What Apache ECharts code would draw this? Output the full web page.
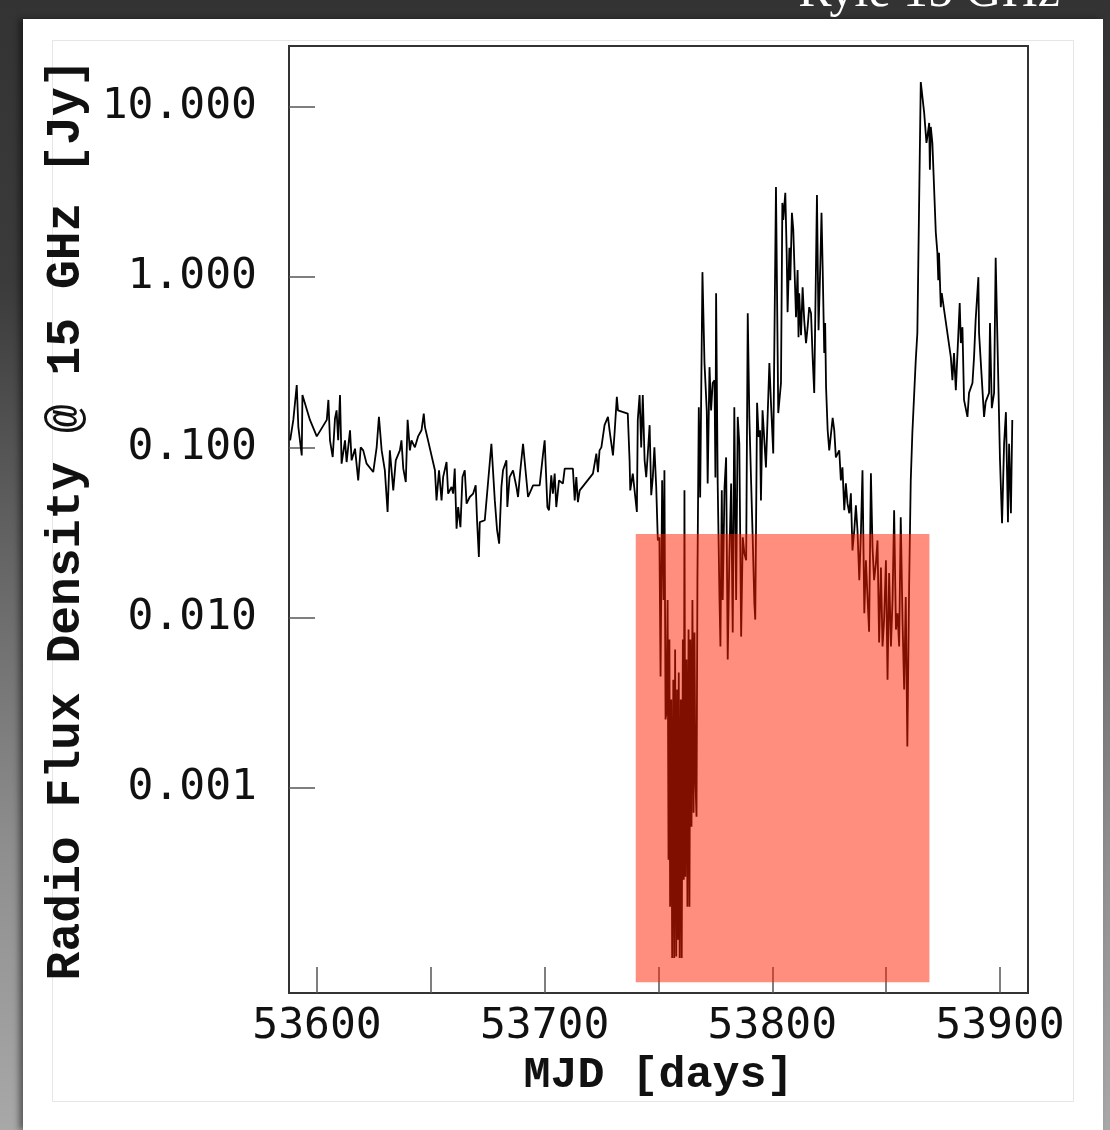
<!DOCTYPE html>
<html>
<head>
<meta charset="utf-8">
<title>Radio light curve, 15 GHz</title>
<script src="https://cdn.jsdelivr.net/npm/echarts@6/dist/echarts.min.js"></script>
<style>
  html, body { margin: 0; padding: 0; }
  body {
    width: 1110px; height: 1130px; overflow: hidden; position: relative;
    background: linear-gradient(to bottom, #333 0%, #3b3b3b 25%, #666 50%, #8e8e8e 75%, #a8a8a8 100%);
  }
  #card {
    position: absolute; left: 23px; top: 19px; width: 1080px; height: 1111px;
    background: #fff; box-shadow: -4px 0 6px rgba(0,0,0,0.45);
  }
  #frame {
    position: absolute; left: 52px; top: 40px; width: 1022px; height: 1062px;
    border: 1px solid #e6e6e6; box-sizing: border-box;
  }
  #chart { position: absolute; left: 0; top: 0; width: 1110px; height: 1130px; }
</style>
</head>
<body>
<div id="card"></div>
<div id="frame"></div>
<div id="chart"></div>
<script>
// Modified Julian Date of each measurement [days]
const mjd = [
  53588.2, 53589.6, 53591.1, 53591.8, 53593.3, 53593.6, 53596.9, 53599.9, 53604.3, 53605.0,
  53605.7, 53606.9, 53607.9, 53608.6, 53609.3, 53610.1, 53610.8, 53612.3, 53613.0, 53614.5,
  53615.2, 53616.7, 53618.1, 53619.2, 53620.3, 53621.8, 53624.7, 53626.2, 53627.2, 53628.4,
  53629.8, 53631.0, 53632.0, 53633.5, 53634.6, 53636.4, 53637.1, 53637.9, 53639.0, 53639.8,
  53640.8, 53641.5, 53643.0, 53644.4, 53645.9, 53646.9, 53647.4, 53651.8, 53652.5, 53653.6,
  53654.7, 53655.4, 53656.9, 53657.6, 53659.1, 53659.8, 53660.5, 53661.3, 53662.0, 53663.0,
  53663.9, 53664.9, 53665.7, 53667.1, 53668.6, 53669.7, 53670.3, 53671.1, 53671.5, 53673.7,
  53676.6, 53678.1, 53679.1, 53680.0, 53681.0, 53681.7, 53683.2, 53683.6, 53684.6, 53686.1,
  53687.6, 53688.3, 53689.3, 53690.5, 53692.7, 53694.9, 53697.8, 53699.3, 53700.0, 53701.2,
  53701.9, 53702.9, 53703.6, 53704.4, 53705.1, 53706.3, 53708.0, 53708.8, 53712.4, 53713.2,
  53713.9, 53714.6, 53715.4, 53721.2, 53722.7, 53723.4, 53724.1, 53724.9, 53726.3, 53727.8,
  53728.5, 53730.0, 53730.7, 53731.7, 53732.2, 53736.5, 53737.3, 53737.6, 53738.7, 53740.5,
  53740.9, 53741.7, 53742.4, 53743.1, 53743.9, 53744.6, 53745.3, 53746.1, 53746.8, 53747.5,
  53748.2, 53749.0, 53749.7, 53750.4,
  53750.9, 53751.6, 53752.2, 53752.6, 53753.1, 53753.5, 53754.0, 53754.4, 53754.8, 53755.1,
  53755.6, 53756.0, 53756.5, 53756.9, 53757.3, 53757.8, 53758.2, 53758.6, 53758.9, 53759.3,
  53759.8, 53760.2, 53760.7, 53761.1, 53761.4, 53761.8, 53762.3, 53762.7, 53763.2, 53763.6,
  53764.0, 53764.5, 53764.9, 53765.4, 53765.8, 53766.2, 53766.7, 53767.1, 53767.7, 53768.3,
  53769.3, 53770.2, 53771.2, 53771.6, 53772.4, 53773.1, 53773.8, 53774.6, 53775.0, 53775.3,
  53776.0, 53776.8, 53777.2, 53777.8, 53778.2, 53779.0, 53779.7, 53780.4, 53781.1, 53781.9,
  53782.6, 53783.3, 53784.1, 53784.8, 53785.5, 53786.3, 53787.0, 53787.7, 53788.5, 53789.2,
  53789.9, 53790.7, 53791.4, 53792.1, 53792.5, 53793.3, 53794.0, 53794.6, 53795.0, 53795.7,
  53796.5, 53797.2, 53798.7, 53799.4, 53800.4, 53801.6, 53802.6, 53803.8, 53804.4, 53804.8,
  53805.7, 53806.3, 53806.7, 53807.5, 53807.9, 53808.6, 53809.2, 53809.8, 53810.4, 53811.1,
  53811.5, 53811.8, 53812.6, 53813.3, 53814.0, 53814.8, 53815.5, 53816.2, 53817.0, 53817.7,
  53818.4, 53819.6, 53820.3, 53821.1, 53821.6, 53822.1, 53822.8, 53823.2, 53823.6, 53824.3,
  53825.0, 53826.5, 53827.2, 53827.9, 53829.4, 53830.1, 53830.8, 53831.6, 53832.3, 53833.0,
  53833.8, 53834.5, 53835.2, 53836.0, 53836.7, 53837.4, 53838.2, 53838.9, 53839.6, 53840.4,
  53841.1, 53841.8, 53842.5, 53843.3, 53844.0, 53844.7, 53845.5, 53846.2, 53846.9, 53847.7,
  53848.4, 53849.1, 53849.9, 53850.6, 53851.3, 53852.1, 53852.8, 53853.5, 53854.3, 53855.0,
  53855.7, 53856.4, 53857.2, 53857.9, 53858.6, 53859.3, 53860.1, 53860.8, 53861.5, 53863.0,
  53863.7, 53865.2, 53866.7, 53867.7, 53868.1, 53868.9, 53869.2, 53869.6, 53870.3, 53871.8,
  53872.5, 53872.9, 53873.2, 53874.0, 53874.4, 53878.4, 53879.1, 53879.8, 53880.6, 53882.3,
  53882.8, 53883.5, 53884.2, 53885.7, 53886.4, 53887.9, 53888.6, 53889.3, 53890.5, 53890.8,
  53893.0, 53893.7, 53895.2, 53895.6, 53896.4, 53897.4, 53898.1, 53900.0, 53900.9, 53901.8,
  53902.6, 53903.5, 53904.0, 53904.8, 53905.4
];

// Flux density at 15 GHz [Jy], one value per date above
const flux = [
  0.110, 0.145, 0.232, 0.132, 0.0897, 0.203, 0.145, 0.116, 0.145, 0.190,
  0.110, 0.0877, 0.148, 0.165, 0.110, 0.203, 0.0802, 0.110, 0.0820, 0.126,
  0.0839, 0.0983, 0.0640, 0.100, 0.096, 0.0802, 0.0716, 0.100, 0.151, 0.096,
  0.0733, 0.0417, 0.096, 0.0559, 0.0839, 0.096, 0.110, 0.0750, 0.0626, 0.145,
  0.096, 0.110, 0.100, 0.116, 0.126, 0.158, 0.132, 0.0733, 0.0488, 0.0733,
  0.0488, 0.0669, 0.0820, 0.0535, 0.0585, 0.0535, 0.0750, 0.0333, 0.0446, 0.0340,
  0.0669, 0.0733, 0.0467, 0.0511, 0.0535, 0.0598, 0.0373, 0.0227, 0.0364, 0.0373,
  0.105, 0.0488, 0.0326, 0.0272, 0.0585, 0.0733, 0.0839, 0.0446, 0.0669, 0.0733,
  0.0585, 0.0511, 0.0733, 0.105, 0.0511, 0.0598, 0.0598, 0.0918, 0.110, 0.0446,
  0.0427, 0.0685, 0.0535, 0.0701, 0.0446, 0.0640, 0.0612, 0.0750, 0.0750, 0.0488,
  0.0669, 0.0477, 0.0559, 0.0701, 0.0918, 0.0716, 0.096, 0.100, 0.135, 0.151,
  0.126, 0.0897, 0.121, 0.198, 0.165, 0.158, 0.0839, 0.0559, 0.0701, 0.0417,
  0.145, 0.203, 0.100, 0.203, 0.0839, 0.0669, 0.0918, 0.135, 0.0523, 0.0666,
  0.100, 0.0585, 0.0284, 0.0296,
  0.00450, 0.0640, 0.0127, 0.0733, 0.00252, 0.00277, 0.0127, 0.000378, 0.00743, 0.000200,
  0.00330, 0.0001, 0.00432, 0.0001, 0.00649, 0.000102, 0.00378, 0.000128, 0.00475, 0.0001,
  0.00330, 0.0001, 0.00743, 0.000288, 0.0559, 0.000300, 0.00567, 0.000200, 0.00850, 0.000200,
  0.00743, 0.000590, 0.0127, 0.000713, 0.00816, 0.00112, 0.000676, 0.0166, 0.172, 0.0508,
  1.07, 0.313, 0.165, 0.0614, 0.296, 0.165, 0.239, 0.248, 0.0666, 0.805,
  0.0614, 0.0127, 0.00676, 0.0559, 0.0127, 0.0582, 0.0873, 0.00567, 0.0217, 0.0614,
  0.00816, 0.172, 0.0127, 0.151, 0.105, 0.00773, 0.0296, 0.0239, 0.0217, 0.614,
  0.151, 0.0614, 0.0284, 0.0122, 0.00973, 0.183, 0.115, 0.126, 0.0488, 0.165,
  0.165, 0.0763, 0.313, 0.183, 0.0922, 3.39, 0.159, 0.239, 2.73, 2.17,
  3.13, 1.39, 0.623, 1.49, 0.960, 2.39, 1.90, 1.95, 0.582, 1.10,
  0.444, 0.805, 0.456, 0.873, 0.559, 0.410, 0.508, 0.666, 0.614, 0.339,
  0.209, 3.04, 0.488, 1.21, 2.39, 1.15, 0.358, 0.537, 0.226, 0.126,
  0.096, 0.149, 0.126, 0.0873, 0.096, 0.0640, 0.0763, 0.0427, 0.0614, 0.0470,
  0.0410, 0.0537, 0.0248, 0.0326, 0.0456, 0.0326, 0.0166, 0.0313, 0.0733, 0.0106,
  0.0217, 0.0132, 0.00827, 0.0704, 0.0259, 0.0166, 0.0209, 0.0284, 0.00713, 0.0197,
  0.00676, 0.00973, 0.0217, 0.00432, 0.0183, 0.00676, 0.0127, 0.0427, 0.00850, 0.0106,
  0.00676, 0.0388, 0.00935, 0.00378, 0.0132, 0.00175, 0.0159, 0.0640, 0.121, 0.326,
  0.470, 14.0, 9.22, 6.14, 6.66, 8.05, 4.27, 7.63, 6.14, 1.83,
  1.39, 0.960, 1.39, 0.666, 0.805, 0.339, 0.248, 0.358, 0.217, 0.704,
  0.410, 0.508, 0.190, 0.151, 0.209, 0.239, 0.339, 0.559, 1.00, 0.470,
  0.151, 0.185, 0.209, 0.537, 0.170, 0.209, 1.30, 0.0839, 0.0358, 0.105,
  0.161, 0.0363, 0.105, 0.0410, 0.145
];

// Axis ranges and tick positions
const mjdRange = [53587.7, 53912.3];
const fluxRange = [6.23e-5, 22.8];
const mjdTicks = [53600, 53650, 53700, 53750, 53800, 53850, 53900];
const mjdLabels = [53600, 53700, 53800, 53900];
const fluxTicks = [0.001, 0.01, 0.1, 1, 10];

// Highlighted interval: [start, end] in MJD and [low, high] in Jy
const shadeMjd = [53740, 53869];
const shadeFlux = [7.2e-5, 0.031];

const points = mjd.map((d, i) => [d, flux[i]]);

const chart = echarts.init(document.getElementById('chart'), null, { renderer: 'canvas' });

const labelFont = '"DejaVu Sans Mono", monospace';
const nameFont = '"Liberation Mono", "DejaVu Sans Mono", monospace';

chart.setOption({
  animation: false,
  backgroundColor: 'transparent',
  graphic: [{
    type: 'text',
    x: 1060,
    y: 18,
    silent: true,
    style: {
      text: 'Ryle 15 GHz',
      fill: '#ffffff',
      font: '50px "Liberation Serif", serif',
      align: 'right',
      verticalAlign: 'bottom'
    }
  }],
  grid: {
    left: 289, top: 46, right: 82, bottom: 137,
    show: true, borderColor: '#333', borderWidth: 2,
    backgroundColor: 'transparent'
  },
  xAxis: {
    type: 'value',
    min: mjdRange[0], max: mjdRange[1],
    name: 'MJD [days]',
    nameLocation: 'middle',
    nameGap: 58,
    nameTextStyle: { fontFamily: nameFont, fontWeight: 'bold', fontSize: 45, color: '#111' },
    axisLine: { show: true, lineStyle: { color: '#333', width: 2 } },
    axisTick: { show: true, inside: true, length: 26, customValues: mjdTicks,
                lineStyle: { color: '#555', width: 1.5 } },
    axisLabel: { customValues: mjdLabels, margin: 12, fontFamily: labelFont, fontSize: 43, color: '#111',
                 formatter: v => String(Math.round(v)) },
    splitLine: { show: false }
  },
  yAxis: {
    type: 'log',
    logBase: 10,
    min: fluxRange[0], max: fluxRange[1],
    name: 'Radio Flux Density @ 15 GHz [Jy]',
    nameLocation: 'middle',
    nameGap: 198,
    nameRotate: 90,
    nameTextStyle: { fontFamily: nameFont, fontWeight: 'bold', fontSize: 48, color: '#111' },
    axisLine: { show: true, lineStyle: { color: '#333', width: 2 } },
    axisTick: { show: true, inside: true, length: 26, customValues: fluxTicks,
                lineStyle: { color: '#555', width: 1.5 } },
    axisLabel: { customValues: fluxTicks, margin: 32, fontFamily: labelFont, fontSize: 43, color: '#111',
                 formatter: v => Number(v).toFixed(3) },
    splitLine: { show: false }
  },
  series: [
    {
      type: 'line',
      data: points,
      showSymbol: false,
      symbol: 'none',
      z: 2,
      lineStyle: { color: '#000', width: 1.8 },
      silent: true
    },
    {
      type: 'custom',
      z: 10,
      silent: true,
      data: [[shadeMjd[0], shadeFlux[1], shadeMjd[1], shadeFlux[0]]],
      encode: { x: [0, 2], y: [1, 3] },
      renderItem: (params, api) => {
        const p0 = api.coord([api.value(0), api.value(1)]);
        const p1 = api.coord([api.value(2), api.value(3)]);
        return {
          type: 'rect',
          shape: { x: p0[0], y: p0[1], width: p1[0] - p0[0], height: p1[1] - p0[1] },
          style: { fill: 'rgba(255, 30, 0, 0.5)' }
        };
      }
    }
  ]
});
</script>
</body>
</html>
